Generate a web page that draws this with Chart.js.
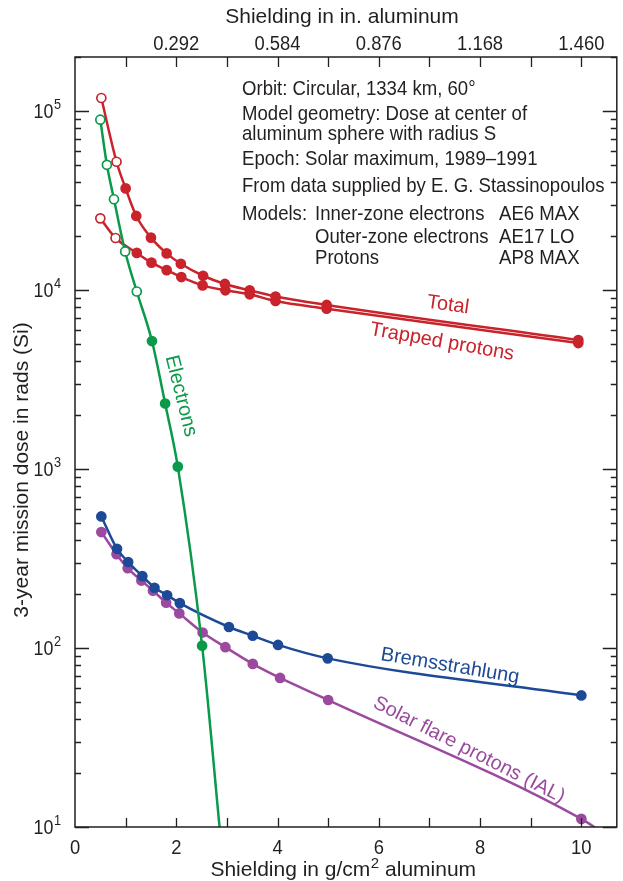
<!DOCTYPE html>
<html>
<head>
<meta charset="utf-8">
<script src="https://cdn.jsdelivr.net/npm/chart.js@4"></script>
<style>
  html, body { margin: 0; padding: 0; background: #fff; }
  canvas { display: block; }
</style>
</head>
<body>
<canvas id="doseChart" width="623" height="881"></canvas>
<script>
// 値は図から読み取り (x: g/cm2, y: rads)
const totalX = [0.52, 0.82, 1.0, 1.21, 1.5, 1.81, 2.09, 2.53, 2.96, 3.45, 3.96, 4.97, 9.94];
const totalY = [118000, 52000, 36900, 25900, 19600, 16000, 14000, 12000, 10800, 9950, 9190, 8240, 5250];
const totalOpen = 2;

const trappedX = [0.5, 0.8, 1.22, 1.51, 1.81, 2.10, 2.52, 2.97, 3.45, 3.96, 4.97, 9.94];
const trappedY = [25100, 19500, 16100, 14200, 12900, 11800, 10600, 9950, 9450, 8670, 7860, 5050];
const trappedOpen = 2;

const elecX = [0.5, 0.63, 0.77, 0.99, 1.22, 1.52, 1.78, 2.03, 2.51, 2.87];
const elecY = [89300, 50000, 32100, 16400, 9800, 5180, 2320, 1030, 103, 9];
const elecOpen = 5;

const bremX = [0.52, 0.83, 1.05, 1.33, 1.57, 1.82, 2.07, 3.04, 3.51, 4.01, 4.99, 10.0];
const bremY = [543, 358, 302, 252, 217, 197, 178, 131, 117, 104, 87.5, 54.3];

const solarX = [0.52, 0.82, 1.04, 1.31, 1.54, 1.80, 2.06, 2.52, 2.97, 3.51, 4.05, 5.0, 10.0, 10.35];
const solarY = [444, 334, 279, 238, 209, 179, 156, 122, 101, 81.5, 68, 51.2, 11.1, 9.6];

const bottomTicks = [0, 2, 4, 6, 8, 10];
const topTicks = [2, 4, 6, 8, 10];
const topLabels = ['0.292', '0.584', '0.876', '1.168', '1.460'];
const yDecades = [1, 2, 3, 4, 5];

const infoLines = [
    ['Orbit: Circular, 1334 km, 60°'],
    ['Model geometry: Dose at center of'],
    ['aluminum sphere with radius S'],
    ['Epoch: Solar maximum, 1989–1991'],
    ['From data supplied by E. G. Stassinopoulos'],
    ['Models:', 'Inner-zone electrons', 'AE6 MAX'],
    ['', 'Outer-zone electrons', 'AE17 LO'],
    ['', 'Protons', 'AP8 MAX']
];

const RED = '#c9232c';
const GREEN = '#0a9a4a';
const BLUE = '#1d4a97';
const PURPLE = '#9b4a9f';
const INK = '#231f20';
const FONT = '"Liberation Sans", Arial, sans-serif';

function pts(xs, ys) {
    return xs.map((v, i) => ({ x: v, y: ys[i] }));
}

function series(label, xs, ys, color, openCount, hiddenLast, order) {
    const n = xs.length;
    return {
        label: label,
        data: pts(xs, ys),
        borderColor: color,
        borderWidth: 2.5,
        cubicInterpolationMode: 'monotone',
        pointRadius: xs.map((v, i) => (hiddenLast && i === n - 1) ? 0 : 4.5),
        pointBackgroundColor: xs.map((v, i) => i < openCount ? '#fff' : color),
        pointBorderColor: color,
        pointBorderWidth: 1.7,
        order: order
    };
}

// 横方向に詰めたテキスト
function squeezed(ctx, text, x, y, size, sx, align) {
    ctx.save();
    ctx.translate(x, y);
    ctx.scale(sx, 1);
    ctx.font = size + 'px ' + FONT;
    ctx.textAlign = align || 'left';
    ctx.textBaseline = 'middle';
    ctx.fillText(text, 0, 0);
    ctx.restore();
}

function drawPow(ctx, d, right, y) {
    const sx = 0.85;
    ctx.font = '21px ' + FONT;
    const wb = ctx.measureText('10').width * sx;
    ctx.font = '15px ' + FONT;
    const ws = ctx.measureText(String(d)).width * sx;
    const left = right - wb - ws - 0.5;
    squeezed(ctx, '10', left, y, 21, sx);
    squeezed(ctx, String(d), left + wb + 0.5, y - 7, 15, sx);
}

function rotText(ctx, text, x, y, deg, color, size) {
    ctx.save();
    ctx.translate(x, y);
    ctx.rotate(deg * Math.PI / 180);
    ctx.fillStyle = color;
    ctx.font = size + 'px ' + FONT;
    ctx.textAlign = 'center';
    ctx.textBaseline = 'middle';
    ctx.fillText(text, 0, 0);
    ctx.restore();
}

const decor = {
    id: 'decor',
    afterDatasetsDraw(chart) {
        const { ctx, chartArea: a, scales: { x, y } } = chart;
        ctx.save();

        // 枠
        ctx.strokeStyle = INK;
        ctx.lineWidth = 1.5;
        ctx.strokeRect(a.left, a.top, a.right - a.left, a.bottom - a.top);

        // x目盛り（上下、内向き）
        ctx.lineWidth = 1.3;
        for (let v = 1; v <= 10; v++) {
            const px = Math.round(x.getPixelForValue(v)) + 0.5;
            ctx.beginPath();
            ctx.moveTo(px, a.bottom); ctx.lineTo(px, a.bottom - 9);
            ctx.moveTo(px, a.top); ctx.lineTo(px, a.top + 10);
            ctx.stroke();
        }

        // y目盛り（左右、対数）
        yDecades.forEach(d => {
            for (let m = 1; m <= 9; m++) {
                const val = m * Math.pow(10, d);
                if (val > y.max) break;
                const py = Math.round(y.getPixelForValue(val)) + 0.5;
                const len = m === 1 ? 14 : 6;
                ctx.beginPath();
                ctx.moveTo(a.left, py); ctx.lineTo(a.left + len, py);
                ctx.moveTo(a.right, py); ctx.lineTo(a.right - len, py);
                ctx.stroke();
            }
        });

        ctx.fillStyle = INK;

        // y目盛りラベル
        yDecades.forEach(d => {
            drawPow(ctx, d, 61, y.getPixelForValue(Math.pow(10, d)) + 1);
        });

        // 下軸ラベル
        bottomTicks.forEach(v => {
            squeezed(ctx, String(v), x.getPixelForValue(v), 848, 20, 0.92, 'center');
        });

        // 上軸ラベル
        topTicks.forEach((v, i) => {
            squeezed(ctx, topLabels[i], x.getPixelForValue(v), 44, 20, 0.92, 'center');
        });
        squeezed(ctx, 'Shielding in in. aluminum', 342, 17, 21, 1, 'center');

        // 下軸タイトル（上付き2）
        const t1 = 'Shielding in g/cm', t2 = '2', t3 = ' aluminum';
        ctx.font = '21px ' + FONT;
        const w1 = ctx.measureText(t1).width, w3 = ctx.measureText(t3).width;
        ctx.font = '15px ' + FONT;
        const w2 = ctx.measureText(t2).width;
        const lx = 343 - (w1 + w2 + w3) / 2;
        squeezed(ctx, t1, lx, 870, 21, 1);
        squeezed(ctx, t2, lx + w1 + 0.5, 864, 15, 1);
        squeezed(ctx, t3, lx + w1 + w2 + 0.5, 870, 21, 1);

        // y軸タイトル
        rotText(ctx, '3-year mission dose in rads (Si)', 22, 470, -90, INK, 21);

        // 系列ラベル
        rotText(ctx, 'Total', 448, 305, 8, RED, 20);
        rotText(ctx, 'Trapped protons', 442, 342, 10, RED, 20);
        rotText(ctx, 'Electrons', 181, 396, 76, GREEN, 20);
        rotText(ctx, 'Bremsstrahlung', 450, 666, 9.5, BLUE, 20);
        rotText(ctx, 'Solar flare protons (IAL)', 469, 750, 27, PURPLE, 20);

        // 注記
        const rowsY = [89, 114, 134, 159, 186, 214, 237, 258];
        const cols = [242, 315, 499];
        ctx.fillStyle = INK;
        infoLines.forEach((row, i) => {
            row.forEach((s, j) => {
                if (s) squeezed(ctx, s, cols[j], rowsY[i], 21, 0.885);
            });
        });

        ctx.restore();
    }
};

new Chart(document.getElementById('doseChart').getContext('2d'), {
    type: 'line',
    data: {
        datasets: [
            series('Electrons', elecX, elecY, GREEN, elecOpen, true, 1),
            series('Total', totalX, totalY, RED, totalOpen, false, 2),
            series('Trapped protons', trappedX, trappedY, RED, trappedOpen, false, 3),
            series('Bremsstrahlung', bremX, bremY, BLUE, 0, false, 4),
            series('Solar flare protons (IAL)', solarX, solarY, PURPLE, 0, true, 5)
        ]
    },
    options: {
        responsive: false,
        animation: false,
        events: [],
        layout: {
            padding: { left: 75, right: 3, top: 57, bottom: 54 }
        },
        plugins: {
            legend: { display: false },
            tooltip: { enabled: false }
        },
        scales: {
            x: { type: 'linear', min: 0, max: 10.7, display: false },
            y: { type: 'logarithmic', min: 10, max: 200000, display: false }
        }
    },
    plugins: [decor]
});
</script>
</body>
</html>
